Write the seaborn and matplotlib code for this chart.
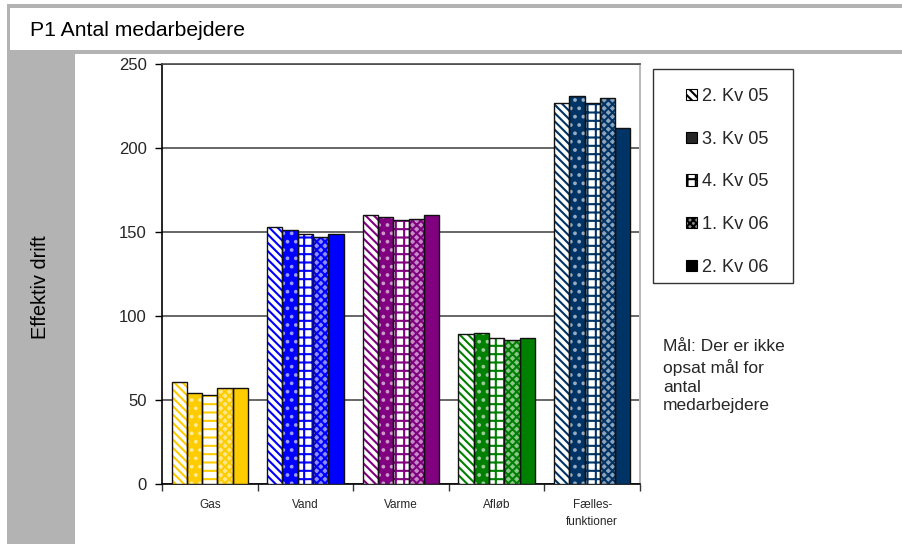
import matplotlib
matplotlib.use("Agg")
import matplotlib.pyplot as plt
import seaborn as sns
import pandas as pd
import numpy as np
from matplotlib.patches import Rectangle, Patch
from matplotlib.colors import to_rgb

# --- data -------------------------------------------------------------
categories = ["Gas", "Vand", "Varme", "Afløb", "Fælles-\nfunktioner"]
periods = ["2. Kv 05", "3. Kv 05", "4. Kv 05", "1. Kv 06", "2. Kv 06"]
kv2_05 = [61, 153, 160, 89, 227]
kv3_05 = [54, 151, 159, 90, 231]
kv4_05 = [53, 149, 157, 87, 227]
kv1_06 = [57, 147, 158, 86, 230]
kv2_06 = [57, 149, 160, 87, 212]
y_ticks = [0, 50, 100, 150, 200, 250]

category_colors = ["#FFCC00", "#0000FF", "#800080", "#008000", "#003366"]

values = kv2_05 + kv3_05 + kv4_05 + kv1_06 + kv2_06
df = pd.DataFrame({
    "Kategori": categories * len(periods),
    "Periode": np.repeat(periods, len(categories)),
    "Antal": values,
})

# --- style ------------------------------------------------------------
sns.set_theme(style="white")
plt.rcParams["font.family"] = ["Liberation Sans", "DejaVu Sans"]
plt.rcParams["hatch.linewidth"] = 1.5

W, H = 903, 544
fig = plt.figure(figsize=(W / 100, H / 100), dpi=100)
fig.patch.set_facecolor("white")


def box(x, y, w, h):
    """Rectangle given in pixel coordinates from the top-left corner."""
    return [x / W, 1 - (y + h) / H, w / W, h / H]


def fig_rect(x, y, w, h, **kw):
    l, b, ww, hh = box(x, y, w, h)
    fig.patches.append(Rectangle((l, b), ww, hh, transform=fig.transFigure, **kw))


# page frame: grey bands around the title and on the left
grey = "#B3B3B3"
fig_rect(7, 4, W - 7, 4, facecolor=grey, edgecolor="none")
fig_rect(7, 4, 3, 48, facecolor=grey, edgecolor="none")
fig_rect(7, 50, W - 7, 4, facecolor=grey, edgecolor="none")
fig_rect(7, 50, 68, H - 50, facecolor=grey, edgecolor="none")

fig.text(30 / W, 1 - 31 / H, "P1 Antal medarbejdere", fontsize=15.2,
         va="center", ha="left", color="black")
fig.text(40 / W, 1 - 287 / H, "Effektiv drift", fontsize=14.3, rotation=90,
         va="center", ha="center", color="black")

# --- bars -------------------------------------------------------------
ax = fig.add_axes(box(162, 64, 478, 420))
sns.barplot(data=df, x="Kategori", y="Antal", hue="Periode",
            order=categories, hue_order=periods, width=0.8,
            errorbar=None, saturation=1, legend=False, ax=ax)


def lighten(c, f):
    r, g, b = to_rgb(c)
    return (r + (1 - r) * f, g + (1 - g) * f, b + (1 - b) * f)


for i, container in enumerate(ax.containers):
    for j, bar in enumerate(container):
        col = category_colors[j]
        if i == 0:
            face, hatch, hcol = "white", "\\\\\\\\", col
        elif i == 1:
            face, hatch, hcol = col, "..", lighten(col, 0.6)
        elif i == 2:
            face, hatch, hcol = "white", ("--" if j == 0 else "++"), col
        elif i == 3:
            face, hatch, hcol = lighten(col, 0.55), "xxxx", col
        else:
            face, hatch, hcol = col, None, col
        bar.set_facecolor(face)
        bar.set_hatch(hatch)
        bar.set_edgecolor(hcol)
        bar.set_linewidth(0)
        bar.set_zorder(3)
        ax.add_patch(Rectangle(bar.get_xy(), bar.get_width(), bar.get_height(),
                               fill=False, edgecolor="#111111", lw=1.0, zorder=3.5))

ax.set_ylim(0, 250)
ax.set_xlim(-0.5, len(categories) - 0.5)
ax.set_yticks(y_ticks)
ax.set_yticklabels([str(v) for v in y_ticks], fontsize=12)
ax.yaxis.grid(True, color="#4D4D4D", lw=1.2)
ax.set_axisbelow(True)

ax.set_xticks(np.arange(len(categories) + 1) - 0.5)
ax.set_xticklabels([])
ax.set_xticks(np.arange(len(categories)), minor=True)
ax.set_xticklabels(categories, minor=True, fontsize=8.5, linespacing=1.5)
ax.tick_params(axis="x", which="major", direction="out", length=5, width=1,
               color="#333333", bottom=True)
ax.tick_params(axis="x", which="minor", length=0, pad=11)
ax.tick_params(axis="y", direction="out", length=5, width=1, color="black",
               left=True, pad=6)
ax.set_xlabel("")
ax.set_ylabel("")

for side in ("left", "bottom"):
    ax.spines[side].set_color("black")
    ax.spines[side].set_linewidth(1.2)
ax.spines["top"].set_color("#4D4D4D")
ax.spines["top"].set_linewidth(1.2)
ax.spines["right"].set_color("#BBBBBB")
ax.spines["right"].set_linewidth(1.5)

# --- legend -----------------------------------------------------------
legend_styles = [
    dict(facecolor="white", hatch="\\\\\\\\"),
    dict(facecolor="#262626"),
    dict(facecolor="white", hatch="++"),
    dict(facecolor="#8C8C8C", hatch="xxxxx"),
    dict(facecolor="black"),
]
handles = [Patch(edgecolor="black", linewidth=0.8, label=p, **s)
           for p, s in zip(periods, legend_styles)]
fig_rect(653, 69, 140, 214, facecolor="white", edgecolor="#333333", lw=1.0)
fig.legend(handles=handles, loc="upper left",
           bbox_to_anchor=(677 / W, 1 - 79 / H), frameon=False,
           fontsize=13.1, handlelength=0.6, handleheight=0.6,
           handletextpad=0.25, labelspacing=1.41, borderpad=0)

fig.text(663 / W, 1 - 339 / H,
         "Mål: Der er ikke\nopsat mål for\nantal\nmedarbejdere",
         fontsize=12.5, va="top", ha="left", linespacing=1.33)

fig.savefig("out.png", dpi=100)
